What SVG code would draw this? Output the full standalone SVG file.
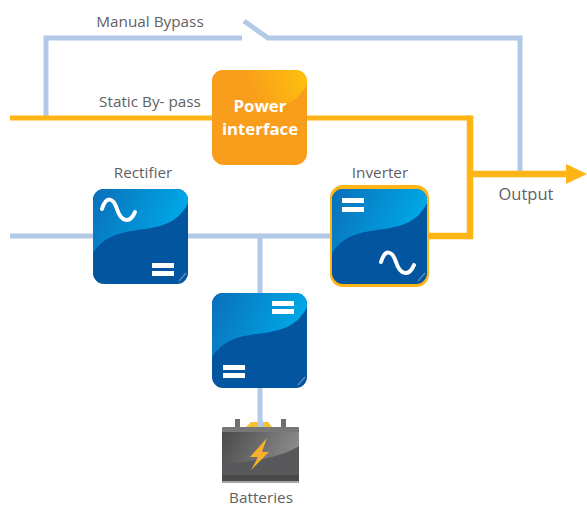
<svg xmlns="http://www.w3.org/2000/svg" width="587" height="506" viewBox="0 0 587 506">
<style>
.lb{fill:none;stroke:#b2c9e8;stroke-width:5}
.lo{fill:none;stroke:#fdb515}
text{font-family:"Open Sans","Noto Sans",sans-serif;font-size:15.3px;fill:#5f6062;text-anchor:middle}
.pw{font-size:16.8px;font-weight:700;fill:#fff}
.sym{fill:none;stroke:#fff;stroke-width:4;stroke-linecap:round}
.bar{fill:#fff}
</style>
<defs>
<linearGradient id="blue" x1="0" y1="0" x2="1" y2="0.3"><stop offset="0" stop-color="#0a6fba"/><stop offset="1" stop-color="#00a9e8"/></linearGradient>
<linearGradient id="org" x1="0" y1="0.3" x2="1" y2="0"><stop offset="0.35" stop-color="#f99d1c"/><stop offset="1" stop-color="#fdc20c"/></linearGradient>
<linearGradient id="bat" x1="0" y1="0" x2="1" y2="0.3"><stop offset="0" stop-color="#4a4a4b"/><stop offset="1" stop-color="#8c8c8d"/></linearGradient>
<path id="gloss" d="M0 64V11A11 11 0 0 1 11 0H84A11 11 0 0 1 95 11V14C86 32 72 37 52 40C28 43 12 46 0 64Z"/>
<g id="box">
<rect x="0" y="0" width="95" height="95" rx="11" fill="#03559f"/>
<use href="#gloss" fill="url(#blue)"/>
<path d="M86 92L93 84" stroke="#5e93c8" stroke-width="1.2" fill="none"/>
</g>
<path id="sine" d="M0 0C4 -13 11 -12 15 0C19 13 28 15 33 3"/>
</defs>
<g id="connectors">
<path class="lb" d="M46 118V38H242"/>
<path class="lb" d="M244 21L268 38H520V173"/>
<path class="lb" d="M10 236H330"/>
<path class="lb" d="M260 236V294"/>
<path class="lb" d="M260 388V428"/>
<path class="lo" stroke-width="5" d="M10 118H470"/>
<path class="lo" stroke-width="6.5" d="M429 236H470V115.500M470 174H566"/>
<path d="M566 164L587 174L566 184Z" fill="#fdb515"/>
</g>
<g id="manual-bypass"><text x="150" y="27">Manual Bypass</text></g>
<g id="static-bypass"><text x="150" y="107">Static By- pass</text></g>
<g id="power-interface">
<rect x="212" y="70" width="95" height="95" rx="12" fill="#f99d1c"/>
<use href="#gloss" x="212" y="70" fill="url(#org)"/>
<text class="pw" x="260" y="112">Power</text>
<text class="pw" x="260" y="135">interface</text>
</g>
<g id="rectifier">
<text x="143" y="178">Rectifier</text>
<use href="#box" x="93" y="189"/>
<use href="#sine" class="sym" x="102" y="209"/>
<rect class="bar" x="152" y="263" width="22" height="5"/>
<rect class="bar" x="152" y="271" width="22" height="5"/>
</g>
<g id="inverter">
<text x="380" y="178">Inverter</text>
<rect x="330" y="185" width="99" height="102" rx="13" fill="#fdb515"/>
<use href="#box" x="332" y="189"/>
<rect class="bar" x="342" y="198" width="22" height="5"/>
<rect class="bar" x="342" y="207" width="22" height="5"/>
<use href="#sine" class="sym" x="381" y="262"/>
</g>
<g id="converter">
<use href="#box" x="212" y="293"/>
<rect class="bar" x="272" y="301" width="22" height="5"/>
<rect class="bar" x="272" y="309" width="22" height="5"/>
<rect class="bar" x="223" y="365" width="22" height="5"/>
<rect class="bar" x="223" y="373" width="22" height="5"/>
</g>
<g id="batteries">
<rect x="235" y="419" width="5" height="9" fill="#6f6f70"/>
<rect x="281" y="419" width="5" height="9" fill="#6f6f70"/>
<path d="M245 428L251 422H268L273 428Z" fill="#f6c234"/>
<rect x="258" y="420" width="5" height="9" fill="#b2c9e8"/>
<rect x="222" y="427" width="77" height="6" rx="1" fill="#77777a"/>
<rect x="222" y="432" width="77" height="48" fill="url(#bat)"/>
<path d="M222 464C250 462 280 458 299 446V476H222Z" fill="#58585a"/>
<rect x="222" y="475" width="77" height="6" fill="#49494a"/>
<rect x="222" y="481" width="77" height="2" fill="#a5a5a6"/>
<path d="M267 438L250 457H258L251 470L269 452H262Z" fill="#f6b02c"/>
<text x="261" y="503">Batteries</text>
</g>
<g id="output"><text x="526" y="200" style="font-size:16.5px">Output</text></g>
</svg>
